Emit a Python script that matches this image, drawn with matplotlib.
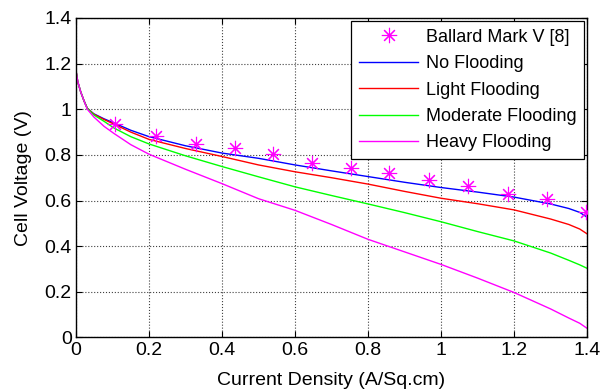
import matplotlib
matplotlib.use("Agg")
import matplotlib.pyplot as plt

plt.rcParams['font.family'] = ['Liberation Sans', 'DejaVu Sans']

# Experimental data (Ballard Mark V)
exp_x = [0.107, 0.219, 0.33, 0.436, 0.54, 0.646, 0.753, 0.858, 0.967, 1.074, 1.184, 1.29, 1.397]
exp_y = [0.935, 0.882, 0.849, 0.83, 0.805, 0.765, 0.743, 0.72, 0.69, 0.665, 0.628, 0.608, 0.55]

# Model curves
cur = [0, 0.005, 0.013, 0.022, 0.031, 0.049, 0.077, 0.104, 0.15, 0.2, 0.3, 0.4, 0.5,
       0.6, 0.7, 0.8, 0.9, 1.0, 1.1, 1.2, 1.3, 1.35, 1.38, 1.4]
no_flood = [1.17, 1.12, 1.076, 1.037, 1.004, 0.98, 0.958, 0.94, 0.908, 0.88, 0.84, 0.808,
            0.785, 0.756, 0.73, 0.705, 0.68, 0.657, 0.637, 0.615, 0.585, 0.565, 0.548, 0.527]
light_flood = [1.17, 1.12, 1.076, 1.037, 1.004, 0.978, 0.955, 0.935, 0.9, 0.868, 0.828,
               0.793, 0.756, 0.726, 0.70, 0.672, 0.64, 0.61, 0.586, 0.559, 0.519, 0.495,
               0.475, 0.454]
moderate_flood = [1.17, 1.12, 1.076, 1.037, 1.004, 0.975, 0.947, 0.918, 0.88, 0.848, 0.796,
                  0.749, 0.704, 0.66, 0.622, 0.585, 0.547, 0.507, 0.464, 0.423, 0.37, 0.338,
                  0.318, 0.303]
heavy_flood = [1.17, 1.12, 1.076, 1.037, 1.0, 0.966, 0.925, 0.894, 0.845, 0.803, 0.737,
               0.674, 0.608, 0.557, 0.495, 0.43, 0.375, 0.32, 0.26, 0.197, 0.125, 0.085,
               0.062, 0.04]

xticks = [0, 0.2, 0.4, 0.6, 0.8, 1.0, 1.2, 1.4]
xticklabels = ['0', '0.2', '0.4', '0.6', '0.8', '1', '1.2', '1.4']
yticks = [0, 0.2, 0.4, 0.6, 0.8, 1.0, 1.2, 1.4]
yticklabels = ['0', '0.2', '0.4', '0.6', '0.8', '1', '1.2', '1.4']

fig = plt.figure(figsize=(6.02, 3.91), dpi=100)
ax = fig.add_axes([0.1262, 0.137, 0.849, 0.817])

ax.plot(exp_x, exp_y, linestyle='none', marker=(8, 2, 0), markersize=11,
        color='#ff00ff', markeredgewidth=0.8, label='Ballard Mark V [8]', zorder=5)
ax.plot(cur, no_flood, color='#0000ff', lw=1.0, label='No Flooding')
ax.plot(cur, light_flood, color='#ff0000', lw=1.0, label='Light Flooding')
ax.plot(cur, moderate_flood, color='#00ff00', lw=1.0, label='Moderate Flooding')
ax.plot(cur, heavy_flood, color='#ff00ff', lw=1.0, label='Heavy Flooding')

ax.set_xlim(0, 1.4)
ax.set_ylim(0, 1.4)
ax.set_xticks(xticks)
ax.set_xticklabels(xticklabels)
ax.set_yticks(yticks)
ax.set_yticklabels(yticklabels)
ax.tick_params(direction='in', top=True, right=True, labelsize=14, length=4, width=0.8,
               pad=3)
ax.grid(True, linestyle=':', color='#404040', linewidth=0.8)
for s in ax.spines.values():
    s.set_linewidth(1.0)

ax.set_xlabel('Current Density (A/Sq.cm)', fontsize=14, labelpad=10)
ax.set_ylabel('Cell Voltage (V)', fontsize=14, labelpad=9)

leg = ax.legend(loc='upper right', fontsize=13, fancybox=False, framealpha=1,
                edgecolor='black', borderaxespad=0.15, handlelength=3.3,
                handletextpad=0.4, labelspacing=0.52, borderpad=0.45)
leg.get_frame().set_linewidth(0.9)

fig.savefig('out.png', dpi=100)
